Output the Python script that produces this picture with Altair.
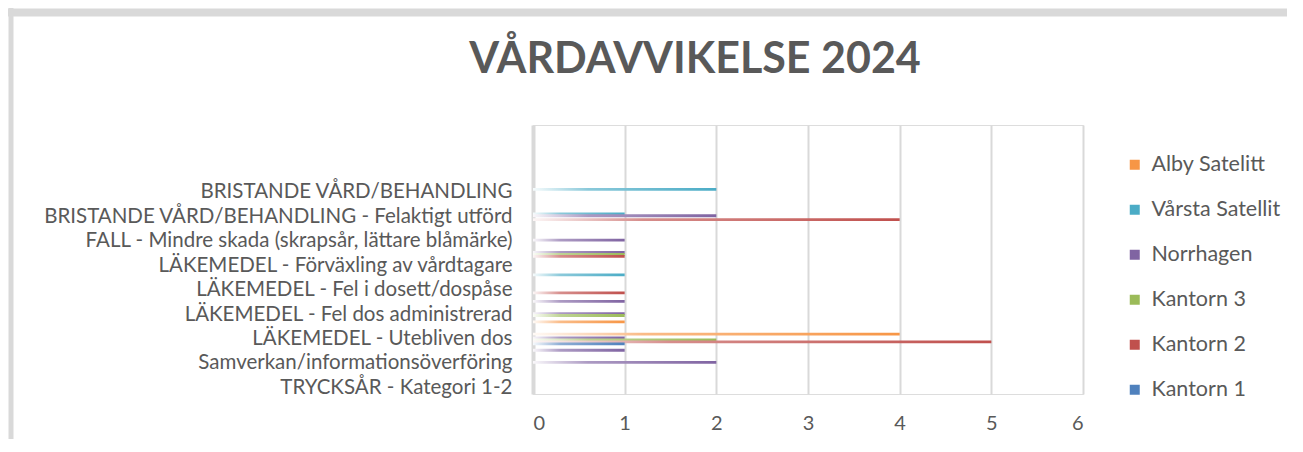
import altair as alt
import pandas as pd

# Categories, top to bottom (entries starting with "~" are rows whose label Excel skipped)
categories = [
    "~tom 1", "~tom 2", "~tom 3", "~tom 4", "~tom 5",
    "BRISTANDE VÅRD/BEHANDLING", "~dold 1",
    "BRISTANDE VÅRD/BEHANDLING - Felaktigt utförd", "~dold 2",
    "FALL - Mindre skada (skrapsår, lättare blåmärke)", "~dold 3",
    "LÄKEMEDEL - Förväxling av vårdtagare", "~dold 4",
    "LÄKEMEDEL - Fel i dosett/dospåse", "~dold 5",
    "LÄKEMEDEL - Fel dos administrerad", "~dold 6",
    "LÄKEMEDEL - Utebliven dos", "~dold 7",
    "Samverkan/informationsöverföring", "~dold 8",
    "TRYCKSÅR - Kategori 1-2",
]

# Series (legend order, top to bottom) and colours
series = ["Alby Satelitt", "Vårsta Satellit", "Norrhagen", "Kantorn 3", "Kantorn 2", "Kantorn 1"]
colors = ["#F79646", "#4BACC6", "#8064A2", "#9BBB59", "#C0504D", "#4F81BD"]

# Values per series, aligned with categories
alby_satelitt   = [0,0,0,0,0, 0,0, 0,0, 0,0, 0,0, 0,0, 0,1, 4,0, 0,0, 0]
varsta_satellit = [0,0,0,0,0, 2,0, 1,0, 0,0, 0,1, 0,0, 0,0, 0,0, 0,0, 0]
norrhagen       = [0,0,0,0,0, 0,0, 2,0, 1,1, 0,0, 0,1, 1,0, 1,1, 2,0, 0]
kantorn_3       = [0,0,0,0,0, 0,0, 0,0, 0,1, 0,0, 0,0, 1,0, 2,0, 0,0, 0]
kantorn_2       = [0,0,0,0,0, 0,0, 4,0, 0,1, 0,0, 1,0, 0,0, 5,0, 0,0, 0]
kantorn_1       = [0,0,0,0,0, 0,0, 0,0, 0,0, 0,0, 0,0, 0,0, 1,0, 0,0, 0]

values = [alby_satelitt, varsta_satellit, norrhagen, kantorn_3, kantorn_2, kantorn_1]

rows = []
for s, vals in zip(series, values):
    for c, v in zip(categories, vals):
        if v > 0:
            rows.append({"kategori": c, "enhet": s, "antal": v})
df = pd.DataFrame(rows)


def tint(hexcol, t):
    r, g, b = (int(hexcol[i:i + 2], 16) for i in (1, 3, 5))
    r = round(r + (255 - r) * t)
    g = round(g + (255 - g) * t)
    b = round(b + (255 - b) * t)
    return "#%02x%02x%02x" % (r, g, b)


FONT = "Lato"
TXT = "#595959"
GRID = "#d9d9d9"

y_enc = alt.Y(
    "kategori:N",
    sort=categories,
    scale=alt.Scale(domain=categories, paddingInner=0.05, paddingOuter=0.025),
    axis=alt.Axis(
        title=None,
        labelExpr="test(/^~/, datum.label) ? '' : datum.label",
        ticks=False,
        grid=False,
        domain=True,
        domainColor=GRID,
        domainWidth=4,
        labelFont=FONT,
        labelFontSize=20.5,
        labelColor=TXT,
        labelPadding=21,
        labelLimit=700,
    ),
)
x_enc = alt.X(
    "antal:Q",
    scale=alt.Scale(domain=[0, 6], nice=False),
    axis=alt.Axis(
        title=None,
        values=[0, 1, 2, 3, 4, 5, 6],
        format="d",
        grid=True,
        gridColor=GRID,
        gridWidth=2,
        ticks=False,
        domain=False,
        labelFont=FONT,
        labelFontSize=20,
        labelColor=TXT,
        labelPadding=19,
    ),
)
yoff_enc = alt.YOffset(
    "enhet:N",
    sort=series,
    scale=alt.Scale(domain=series, paddingInner=0, paddingOuter=0),
)

layers = []
for s, col in zip(series, colors):
    grad = {
        "gradient": "linear",
        "x1": 0, "x2": 1, "y1": 0, "y2": 0,
        "stops": [
            {"offset": 0, "color": tint(col, 0.95)},
            {"offset": 0.3, "color": tint(col, 0.35)},
            {"offset": 1, "color": col},
        ],
    }
    layers.append(
        alt.Chart(df)
        .transform_filter(alt.datum.enhet == s)
        .mark_bar(color=grad, size=2.8)
        .encode(y=y_enc, x=x_enc, yOffset=yoff_enc)
    )

legend_layer = (
    alt.Chart(df)
    .mark_square(opacity=0)
    .encode(
        y=y_enc,
        x=x_enc,
        color=alt.Color(
            "enhet:N",
            scale=alt.Scale(domain=series, range=colors),
            legend=alt.Legend(
                title=None,
                orient="none",
                legendX=591,
                legendY=29,
                symbolType="square",
                symbolSize=100,
                symbolOpacity=1,
                symbolStrokeWidth=0,
                labelFont=FONT,
                labelFontSize=21.5,
                labelColor=TXT,
                labelOffset=6,
                rowPadding=22,
                padding=0,
                labelLimit=300,
            ),
        ),
    )
)

frame = alt.Chart(pd.DataFrame({"a": [0]})).mark_rule(color=GRID, strokeWidth=8).encode(
    x=alt.value(-525), x2=alt.value(780), y=alt.value(-112.5)
)
frame_left = alt.Chart(pd.DataFrame({"a": [0]})).mark_rule(color=GRID, strokeWidth=5).encode(
    x=alt.value(-522), y=alt.value(-117), y2=alt.value(330)
)

chart = (
    alt.layer(frame, frame_left, *layers, legend_layer)
    .properties(
        width=550,
        height=269,
        padding={"left": 525, "top": 117, "right": 204, "bottom": 45},
        autosize=alt.AutoSizeParams(type="none"),
        title=alt.TitleParams(
            "VÅRDAVVIKELSE 2024",
            font=FONT,
            fontSize=43,
            fontWeight="bold",
            color=TXT,
            anchor="middle",
            frame="group",
            baseline="alphabetic",
            dx=-113,
            dy=110,
            offset=0,
        ),
    )
    .configure_view(stroke="transparent", strokeWidth=0)
    .configure(background="white")
)

chart.save("out.html", embed_options={"renderer": "svg", "actions": False})
